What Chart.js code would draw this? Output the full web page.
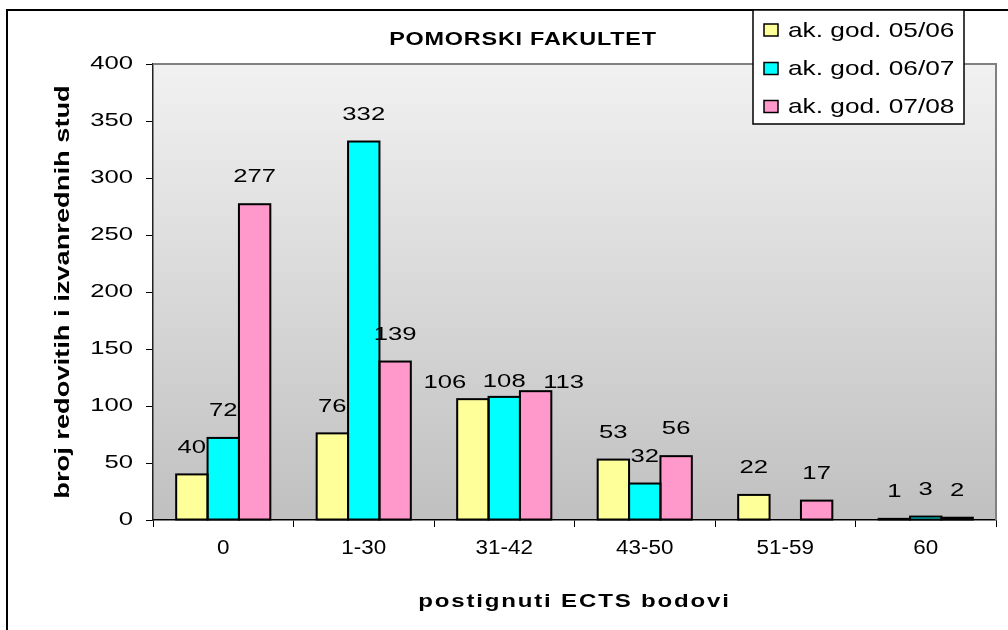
<!DOCTYPE html>
<html><head><meta charset="utf-8">
<script src="https://cdn.jsdelivr.net/npm/chart.js@4"></script>
<style>html,body{margin:0;padding:0;background:#fff;overflow:hidden;}</style>
</head><body><canvas id="c" width="1008" height="630"></canvas>
<script>
const categories = ['0', '1-30', '31-42', '43-50', '51-59', '60'];
const seriesNames = ['ak. god. 05/06', 'ak. god. 06/07', 'ak. god. 07/08'];
const values0506 = [40, 76, 106, 53, 22, 1];
const values0607 = [72, 332, 108, 32, null, 3];
const values0708 = [277, 139, 113, 56, 17, 2];
const yTickMin = 0, yTickMax = 400, yTickStep = 50;
const chartTitle = 'POMORSKI FAKULTET';
const yTitle = 'broj redovitih i izvanrednih stud';
const xTitle = 'postignuti ECTS bodovi';
const seriesColors = ['#FFFF99', '#00FFFF', '#FF99CC'];

const FONT = '"Liberation Sans", Arial, sans-serif';

// The reference text is horizontally stretched; emulate by scaling text around its anchor.
const TEXT_STRETCH = [
  {key: 'bold 18px', sx: 1.3, ls: 0.6},
  {key: 'bold 18.5px', sx: 1.3, ls: 1.4},
  {key: 'bold 20.5px', sx: 1.33, ls: 0},
  {key: '19.5px', sx: 1.15, ls: 0},
  {key: '19px', sx: 1.35, ls: 0},
  {key: '21px', sx: 1.25, ls: 0}
];
const origFillText = CanvasRenderingContext2D.prototype.fillText;
CanvasRenderingContext2D.prototype.fillText = function (t, x, y, mw) {
  const f = this.font || '';
  const r = TEXT_STRETCH.find(s => f.includes(s.key));
  if (!r) return mw === undefined ? origFillText.call(this, t, x, y) : origFillText.call(this, t, x, y, mw);
  this.save();
  this.translate(x, y);
  this.scale(r.sx, 1);
  if (r.ls) this.letterSpacing = r.ls + 'px';
  origFillText.call(this, t, 0, 0);
  this.restore();
};

// label nudges (dataset index, category index) -> [dx, dy], as placed in the reference
const LABEL_NUDGE = {'0,2': [-28, 11], '1,2': [0, 12], '2,2': [28, 19]};

const decorPlugin = {
  id: 'decor',
  beforeDraw(chart) {
    const {ctx, chartArea: a} = chart;
    ctx.save();
    ctx.fillStyle = '#fff';
    ctx.fillRect(0, 0, chart.width, chart.height);
    const g = ctx.createLinearGradient(0, a.top, 0, a.bottom);
    g.addColorStop(0, '#f1f1f1');
    g.addColorStop(1, '#c0c0c0');
    ctx.fillStyle = g;
    ctx.fillRect(a.left, a.top, a.right - a.left, a.bottom - a.top);
    ctx.restore();
  },
  afterDatasetsDraw(chart) {
    const {ctx} = chart;
    ctx.save();
    // bar outlines, stroked centred on the bar edges (Excel style)
    ctx.strokeStyle = '#000';
    ctx.lineWidth = 2;
    ctx.lineJoin = 'miter';
    chart.data.datasets.forEach((ds, i) => {
      const meta = chart.getDatasetMeta(i);
      meta.data.forEach((el, j) => {
        const v = ds.data[j];
        if (v === null || v === undefined) return;
        const p = el.getProps(['x', 'y', 'base', 'width'], true);
        const left = p.x - p.width / 2;
        ctx.strokeRect(left, Math.min(p.y, p.base), p.width, Math.abs(p.base - p.y));
      });
    });
    // value labels
    ctx.font = '19px ' + FONT;
    ctx.fillStyle = '#000';
    ctx.textAlign = 'center';
    ctx.textBaseline = 'middle';
    chart.data.datasets.forEach((ds, i) => {
      const meta = chart.getDatasetMeta(i);
      meta.data.forEach((el, j) => {
        const v = ds.data[j];
        if (v === null || v === undefined) return;
        const n = LABEL_NUDGE[i + ',' + j] || [0, 0];
        ctx.fillText(String(v), el.x + n[0], el.y - 27 + n[1]);
      });
    });
    ctx.restore();
  },
  afterDraw(chart) {
    const {ctx, chartArea: a} = chart;
    ctx.save();
    // plot area top/right border
    ctx.strokeStyle = '#808080';
    ctx.lineWidth = 2;
    ctx.beginPath();
    ctx.moveTo(a.left, a.top);
    ctx.lineTo(a.right, a.top);
    ctx.lineTo(a.right, a.bottom);
    ctx.stroke();
    // outer frame
    ctx.strokeStyle = '#000';
    ctx.lineWidth = 2;
    ctx.strokeRect(7, 10, 1010, 640);
    // title
    ctx.fillStyle = '#000';
    ctx.font = 'bold 18px ' + FONT;
    ctx.textAlign = 'center';
    ctx.textBaseline = 'middle';
    ctx.fillText(chartTitle, 523, 40);
    // legend
    const lx = 753, ly = 10, lw = 211, lh = 114;
    ctx.fillStyle = '#fff';
    ctx.fillRect(lx, ly, lw, lh);
    ctx.strokeStyle = '#000';
    ctx.lineWidth = 1.5;
    ctx.strokeRect(lx, ly, lw, lh);
    const rows = [30, 68.5, 106.5];
    chart.data.datasets.forEach((ds, i) => {
      const cy = rows[i];
      ctx.fillStyle = ds.backgroundColor;
      ctx.fillRect(764, cy - 6, 14, 12);
      ctx.strokeStyle = '#000';
      ctx.lineWidth = 1.5;
      ctx.strokeRect(764, cy - 6, 14, 12);
      ctx.fillStyle = '#000';
      ctx.font = '21px ' + FONT;
      ctx.textAlign = 'left';
      ctx.textBaseline = 'middle';
      ctx.fillText(ds.label, 788, cy + 1);
    });
    ctx.restore();
  }
};

const datasets = [values0506, values0607, values0708].map((vals, i) => ({
  label: seriesNames[i],
  data: vals,
  backgroundColor: seriesColors[i],
  borderWidth: 0,
  inflateAmount: 0,
  categoryPercentage: 0.67,
  barPercentage: 1.0
}));

new Chart(document.getElementById('c'), {
  type: 'bar',
  data: {labels: categories, datasets},
  plugins: [decorPlugin],
  options: {
    responsive: false,
    animation: false,
    devicePixelRatio: 1,
    layout: {padding: {top: 64, right: 12, left: 0, bottom: 0}},
    plugins: {legend: {display: false}, tooltip: {enabled: false}, title: {display: false}},
    scales: {
      x: {
        grid: {display: true, drawOnChartArea: false, offset: true, tickLength: 7, color: '#000', lineWidth: 1},
        border: {display: true, color: '#000', width: 1.5},
        ticks: {font: {family: FONT, size: 19.5}, color: '#000', padding: 10, maxRotation: 0, minRotation: 0, autoSkip: false},
        title: {display: true, text: xTitle, color: '#000', font: {family: FONT, size: 18.5, weight: 'bold'}, padding: {top: 0, bottom: 17}},
        afterFit(s) { s.height = 110; }
      },
      y: {
        min: yTickMin, max: yTickMax,
        grid: {display: true, drawOnChartArea: false, tickLength: 7, color: '#000', lineWidth: 1},
        border: {display: true, color: '#222', width: 1.5},
        ticks: {stepSize: yTickStep, font: {family: FONT, size: 19}, color: '#000', padding: 13},
        title: {display: true, text: yTitle, color: '#000', font: {family: FONT, size: 20.5, weight: 'bold'}, padding: {top: 51, bottom: 0}},
        afterFit(s) { s.width = 153; }
      }
    }
  }
});
</script>
</body></html>
